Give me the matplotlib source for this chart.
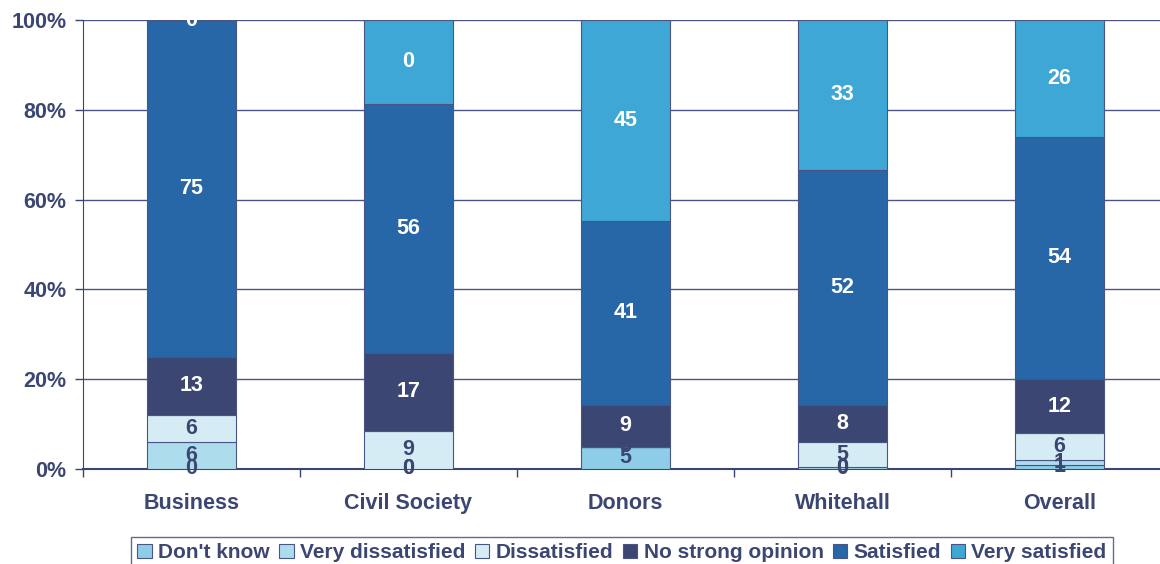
import numpy as np
import matplotlib.pyplot as plt

# survey responses, percent of each group
groups = ["Business", "Civil Society", "Donors", "Whitehall", "Overall"]
responses = ["Don't know", "Very dissatisfied", "Dissatisfied",
             "No strong opinion", "Satisfied", "Very satisfied"]

dont_know = [0, 0, 4.9, 0, 1]
very_dissatisfied = [6, 0, 0, 0.5, 1]
dissatisfied = [6, 8.5, 0, 5.5, 6]
no_strong_opinion = [13, 17.3, 9.4, 8.3, 12]
satisfied = [75, 55.5, 40.9, 52.3, 54]
very_satisfied = [0, 18.7, 44.8, 33.4, 26]

# data labels as printed on the original chart
lbl_dont_know = ["0", "0", "5", "0", "1"]
lbl_very_dissatisfied = ["6", "0", "0", "0", "1"]
lbl_dissatisfied = ["6", "9", "0", "5", "6"]
lbl_no_strong = ["13", "17", "9", "8", "12"]
lbl_satisfied = ["75", "56", "41", "52", "54"]
lbl_very_satisfied = ["0", "0", "45", "33", "26"]

series = [dont_know, very_dissatisfied, dissatisfied,
          no_strong_opinion, satisfied, very_satisfied]
labels = [lbl_dont_know, lbl_very_dissatisfied, lbl_dissatisfied,
          lbl_no_strong, lbl_satisfied, lbl_very_satisfied]

colors = ["#8DCDE8", "#ADDCEC", "#D5ECF5", "#3B4673", "#2766A7", "#3EA7D5"]
text_colors = ["#3B4673", "#3B4673", "#3B4673", "white", "white", "white"]
navy = "#3B4673"

plt.rcParams['font.family'] = ['Liberation Sans', 'DejaVu Sans']
plt.rcParams['font.weight'] = 'bold'

fig = plt.figure(figsize=(11.6, 5.64), dpi=100)
ax = fig.add_axes([83 / 1160, 95 / 564, 1085 / 1160, 449 / 564])

x = np.arange(len(groups))
bottom = np.zeros(len(groups))
for vals, lbls, col, tcol, name in zip(series, labels, colors, text_colors, responses):
    vals = np.array(vals, dtype=float)
    ax.bar(x, vals, 0.41, bottom=bottom, color=col, edgecolor="#4A5585",
           linewidth=0.8, label=name, zorder=3)
    for xi, b, v, t in zip(x, bottom, vals, lbls):
        ax.text(xi, b + v / 2, t, ha="center", va="center", fontsize=15.5,
                fontweight="bold", color=tcol, zorder=4)
    bottom += vals

ax.set_xlim(-0.5, len(groups) - 0.5)
ax.set_ylim(0, 100)
ax.set_yticks(np.arange(0, 101, 20))
ax.set_yticklabels([f"{v}%" for v in range(0, 101, 20)])
ax.yaxis.grid(True, color="#4A5585", linewidth=1, zorder=0)
ax.set_axisbelow(True)

ax.set_xticks(x)
ax.set_xticklabels(groups)
ax.set_xticks(np.arange(-0.5, len(groups), 1), minor=True)
ax.tick_params(axis="x", which="major", length=0, pad=17, labelsize=15.5, labelcolor=navy)
ax.tick_params(axis="x", which="minor", length=6, color=navy, width=1)
ax.tick_params(axis="y", length=6, color=navy, width=1, labelsize=15.5,
               labelcolor=navy, pad=6)
for lab in ax.get_xticklabels() + ax.get_yticklabels():
    lab.set_fontweight("bold")

for side in ["top", "right"]:
    ax.spines[side].set_visible(False)
ax.spines["left"].set_color(navy)
ax.spines["bottom"].set_color(navy)
ax.spines["bottom"].set_linewidth(1.5)

leg = fig.legend(loc="upper center", bbox_to_anchor=(622 / 1160, 1 - 537 / 564),
                 ncol=6, frameon=True, fontsize=15, handlelength=0.7,
                 handleheight=0.7, handletextpad=0.3, columnspacing=0.45,
                 borderpad=0.3, fancybox=False, borderaxespad=0)
leg.get_frame().set_edgecolor(navy)
leg.get_frame().set_linewidth(1)
for t in leg.get_texts():
    t.set_color(navy)
    t.set_fontweight("bold")

plt.savefig("out.png", dpi=100)
